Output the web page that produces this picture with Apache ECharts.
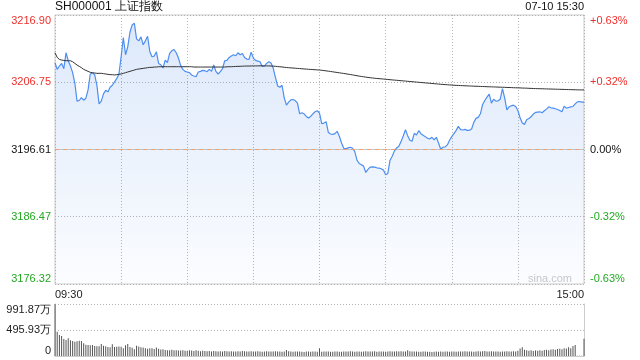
<!DOCTYPE html>
<html><head><meta charset="utf-8">
<script src="https://cdn.jsdelivr.net/npm/echarts@6/dist/echarts.min.js"></script>
<style>html,body{margin:0;padding:0;background:#fff}#c{width:640px;height:360px}</style>
</head><body><div id="c"></div>
<script>
const titleText = 'SH000001 上证指数';
const dateText = '07-10 15:30';
const prevClose = 3196.61;
const priceTicks = [3176.32, 3186.47, 3196.61, 3206.75, 3216.90];
const priceTickLabels = ['3176.32', '3186.47', '3196.61', '3206.75', '3216.90'];
const pctTickLabels = ['-0.63%', '-0.32%', '0.00%', '+0.32%', '+0.63%'];
const volTicks = [0, 495.93, 991.87];
const volTickLabels = ['0', '495.93万', '991.87万'];
const timeTickLabels = ['09:30', '15:00'];

const price = [
3209.70,3208.70,3209.20,3209.60,3208.80,3211.20,3210.00,3209.20,3208.20,3206.60,
3203.90,3204.00,3204.45,3204.05,3204.35,3205.60,3208.00,3208.15,3207.90,3206.30,
3203.50,3203.90,3205.00,3205.55,3205.30,3206.00,3206.30,3206.80,3207.30,3208.00,
3210.60,3213.50,3210.90,3212.10,3214.30,3215.40,3215.65,3213.30,3213.00,3213.60,
3212.40,3213.00,3213.70,3211.40,3210.60,3210.70,3211.35,3209.60,3209.40,3208.90,
3210.10,3209.70,3211.10,3211.50,3211.70,3211.20,3210.40,3209.30,3208.70,3208.40,
3208.30,3208.20,3207.85,3207.70,3207.60,3208.30,3208.40,3208.55,3208.50,3208.35,
3208.70,3208.40,3209.35,3208.40,3208.00,3208.35,3208.80,3210.00,3210.05,3210.50,
3210.70,3210.90,3210.75,3211.20,3210.90,3211.10,3210.50,3210.25,3210.20,3211.30,
3210.40,3210.05,3209.95,3209.85,3209.15,3209.20,3209.60,3209.85,3209.65,3208.90,
3207.50,3206.20,3206.00,3206.30,3204.40,3203.30,3203.75,3204.10,3204.15,3204.00,
3203.60,3202.00,3202.15,3202.00,3201.60,3201.35,3201.60,3202.00,3202.30,3202.45,3202.10,
3200.50,3200.60,3200.80,3199.20,3198.95,3198.90,3199.00,3199.35,3198.60,3197.60,
3196.80,3196.75,3196.85,3196.95,3196.80,3196.30,3195.00,3194.50,3194.30,3194.10,
3193.15,3193.60,3193.95,3194.00,3193.95,3193.85,3193.80,3193.70,3193.50,3192.80,
3193.00,3195.00,3195.60,3196.40,3196.85,3197.10,3197.80,3198.65,3199.60,3198.70,
3198.00,3197.85,3199.05,3198.80,3199.45,3199.00,3198.75,3198.55,3198.30,3198.20,
3198.45,3198.05,3198.45,3197.60,3196.65,3196.95,3197.00,3197.30,3198.00,3198.55,
3199.00,3199.50,3200.10,3199.60,3199.55,3199.65,3199.50,3199.50,3199.70,3200.70,
3201.30,3201.45,3202.00,3203.40,3204.00,3204.50,3204.95,3203.60,3204.20,3203.90,
3203.95,3204.20,3205.80,3204.40,3202.60,3203.05,3203.20,3203.30,3203.10,3202.50,
3201.40,3200.60,3200.40,3201.10,3201.30,3201.55,3201.95,3202.20,3202.25,3202.30,
3202.15,3202.45,3202.70,3203.05,3202.90,3202.85,3202.75,3202.65,3202.50,3202.30,
3203.15,3202.85,3202.95,3203.05,3203.10,3203.50,3203.80,3203.85,3203.75,3203.75
];

const avgPrice = [
3211.2,3210.5,3210.2,3210.1,3210.05,3210.0,3210.0,3210.0,3209.85,3209.6,
3209.35,3209.15,3208.95,3208.7,3208.55,3208.4,3208.25,3208.2,3208.15,3208.1,
3208.1,3208.1,3208.05,3208.0,3207.95,3207.9,3207.9,3207.85,3207.9,3207.95,
3208.0,3208.1,3208.2,3208.3,3208.4,3208.5,3208.6,3208.7,3208.75,3208.8,
3208.85,3208.9,3208.95,3209.0,3209.0,3209.05,3209.05,3209.1,3209.1,3209.1,
3209.1,3209.1,3209.1,3209.1,3209.1,3209.1,3209.1,3209.1,3209.1,3209.1,
3209.1,3209.1,3209.1,3209.05,3209.05,3209.05,3209.05,3209.05,3209.05,3209.05,
3209.05,3209.05,3209.05,3209.05,3209.05,3209.05,3209.05,3209.06,3209.08,3209.1,
3209.1,3209.12,3209.14,3209.15,3209.16,3209.18,3209.19,3209.2,3209.2,3209.21,
3209.22,3209.22,3209.22,3209.23,3209.23,3209.23,3209.22,3209.22,3209.2,3209.19,
3209.16,3209.12,3209.09,3209.06,3209.02,3208.98,3208.95,3208.92,3208.9,3208.87,
3208.84,3208.82,3208.79,3208.76,3208.74,3208.71,3208.69,3208.67,3208.64,3208.62,3208.6,
3208.56,3208.52,3208.47,3208.43,3208.38,3208.33,3208.28,3208.23,3208.18,3208.13,
3208.08,3208.03,3207.97,3207.92,3207.86,3207.8,3207.74,3207.68,3207.63,3207.58,
3207.53,3207.48,3207.44,3207.4,3207.36,3207.33,3207.3,3207.27,3207.24,3207.2,
3207.17,3207.14,3207.11,3207.08,3207.05,3207.02,3206.99,3206.96,3206.93,3206.9,
3206.87,3206.84,3206.81,3206.78,3206.75,3206.72,3206.69,3206.66,3206.63,3206.6,
3206.57,3206.54,3206.51,3206.48,3206.45,3206.43,3206.4,3206.38,3206.35,3206.33,
3206.3,3206.28,3206.27,3206.25,3206.24,3206.22,3206.21,3206.19,3206.18,3206.16,
3206.15,3206.14,3206.12,3206.11,3206.1,3206.08,3206.07,3206.06,3206.05,3206.04,
3206.02,3206.01,3206.0,3205.99,3205.97,3205.96,3205.95,3205.93,3205.92,3205.91,
3205.9,3205.88,3205.87,3205.86,3205.84,3205.83,3205.81,3205.8,3205.79,3205.78,
3205.77,3205.76,3205.75,3205.74,3205.73,3205.72,3205.71,3205.7,3205.69,3205.68,
3205.67,3205.66,3205.65,3205.64,3205.63,3205.62,3205.61,3205.6,3205.6,3205.6
];

const volume = [
991.87,463,400,381,324,305,337,300,286,272,
280,290,286,242,215,210,205,210,191,188,
185,229,196,186,170,166,225,172,178,182,
176,150,205,228,170,158,130,196,180,168,
160,148,140,150,146,132,160,140,125,130,
115,112,108,118,110,112,104,106,110,100,
102,108,104,96,112,100,92,98,94,90,
96,88,94,90,86,92,88,95,90,86,
92,88,84,90,86,96,90,84,88,92,
86,84,90,88,82,86,92,88,84,86,
90,88,84,82,88,115,92,84,80,86,
88,84,82,78,84,88,80,86,84,82,150,
80,84,86,88,82,80,84,86,82,80,
86,88,84,90,86,82,88,84,80,86,
92,88,84,86,90,82,84,88,86,80,
86,90,84,88,92,86,90,84,88,112,
90,84,86,88,82,80,84,86,82,80,
78,82,86,80,84,82,86,84,80,86,
84,82,88,86,84,90,88,84,86,82,
88,92,86,90,96,88,84,92,86,88,
84,82,88,86,90,84,88,92,86,100,
145,165,120,110,100,108,96,104,100,110,
102,115,120,110,125,130,118,135,140,130,
150,145,165,150,190,210,6,5,5,330
];

// x position = trading-minute index (0 = 09:30, 120 = 11:30/13:00, 240 = 15:00)
const lastMinute = price.length - 1;
const pricePts = price.map((v, i) => [i, v]);
const avgPts = avgPrice.map((v, i) => [i, v]);
const volPts = volume.map((v, i) => [i, v]);

const pctTicks = priceTicks.map(p => (p/prevClose - 1) * 100);
const RED = '#f0302c', GREEN = '#22a822', BLACK = '#111';
const GRIDC = '#b4b4b4';

function nearestIdx(arr, v){let b=0;for(let i=1;i<arr.length;i++){if(Math.abs(arr[i]-v)<Math.abs(arr[b]-v))b=i;}return b;}

const chart = echarts.init(document.getElementById('c'), null, {renderer: 'canvas'});
const fontFamily = '"Liberation Sans", Arial, sans-serif';
chart.setOption({
  animation: false,
  backgroundColor: '#fff',
  textStyle: {fontFamily: fontFamily},
  graphic: [
    {type: 'text', left: 55, top: 1, style: {text: titleText, fontSize: 12, fill: '#111', fontFamily: fontFamily}},
    {type: 'text', right: 56, top: 1, style: {text: dateText, fontSize: 11, fill: '#111', fontFamily: fontFamily}},
    {type: 'text', right: 68, top: 273, z: 0, style: {text: 'sina.com', fontSize: 11, fill: '#c8c8c8', fontFamily: fontFamily}}
  ],
  grid: [
    {left: 55, right: 56, top: 15, height: 269, show: true, borderColor: '#ccc', borderWidth: 1},
    {left: 55, right: 56, top: 304, height: 52}
  ],
  xAxis: [
    {type: 'value', gridIndex: 0, min: 0, max: lastMinute, interval: 30,
     axisLine: {show: true, lineStyle: {color: '#ccc'}}, axisTick: {show: false},
     axisLabel: {color: '#222', fontSize: 11, margin: 5,
       alignMinLabel: 'left', alignMaxLabel: 'right',
       formatter: (v) => v === 0 ? timeTickLabels[0] : (v === lastMinute ? timeTickLabels[1] : '')},
     splitLine: {show: true, lineStyle: {color: GRIDC, type: [1, 2], width: 1}}},
    {type: 'value', gridIndex: 1, min: 0, max: lastMinute, interval: 30,
     axisLine: {show: true, lineStyle: {color: '#ccc'}}, axisTick: {show: false},
     axisLabel: {show: false}, splitLine: {show: false}}
  ],
  yAxis: [
    {type: 'value', gridIndex: 0, position: 'left', min: priceTicks[0], max: priceTicks[priceTicks.length-1],
     axisLine: {show: false}, axisTick: {show: false, customValues: priceTicks},
     axisLabel: {customValues: priceTicks, fontSize: 11, margin: 4,
       verticalAlignMinLabel: 'bottom', verticalAlignMaxLabel: 'top',
       formatter: (v) => priceTickLabels[nearestIdx(priceTicks, v)],
       color: (v) => v > prevClose + 0.01 ? RED : (v < prevClose - 0.01 ? GREEN : BLACK)},
     splitLine: {show: true, lineStyle: {color: GRIDC, type: [1, 2], width: 1}}},
    {type: 'value', gridIndex: 0, position: 'right', min: pctTicks[0], max: pctTicks[pctTicks.length-1],
     axisLine: {show: false}, axisTick: {show: false, customValues: pctTicks},
     axisLabel: {customValues: pctTicks, fontSize: 11, margin: 6,
       verticalAlignMinLabel: 'bottom', verticalAlignMaxLabel: 'top',
       formatter: (v) => pctTickLabels[nearestIdx(pctTicks, v)],
       color: (v) => v > 0.001 ? RED : (v < -0.001 ? GREEN : BLACK)},
     splitLine: {show: false}},
    {type: 'value', gridIndex: 1, position: 'left', min: volTicks[0], max: volTicks[volTicks.length-1],
     axisLine: {show: true, lineStyle: {color: '#ccc'}}, axisTick: {show: false, customValues: volTicks},
     axisLabel: {customValues: volTicks, fontSize: 11, margin: 4, color: '#222',
       verticalAlignMinLabel: 'bottom', verticalAlignMaxLabel: 'top',
       formatter: (v) => volTickLabels[nearestIdx(volTicks, v)]},
     splitLine: {show: true, lineStyle: {color: GRIDC, type: [1, 2], width: 1}}},
    {type: 'value', gridIndex: 1, position: 'right', min: volTicks[0], max: volTicks[volTicks.length-1],
     axisLine: {show: true, lineStyle: {color: '#ccc'}}, axisTick: {show: false},
     axisLabel: {show: false}, splitLine: {show: false}}
  ],
  series: [
    {type: 'line', xAxisIndex: 0, yAxisIndex: 0, data: pricePts, showSymbol: false, symbol: 'none',
     lineStyle: {color: '#4d8ef0', width: 1.2},
     areaStyle: {origin: 'start', color: new echarts.graphic.LinearGradient(0, 0, 0, 1, [
       {offset: 0, color: 'rgba(80,140,235,0.28)'}, {offset: 1, color: 'rgba(80,140,235,0.03)'}])},
     markLine: {silent: true, symbol: ['none', 'none'], label: {show: false},
       lineStyle: {color: '#f0a070', type: [4, 4], width: 1}, data: [{yAxis: prevClose}]},
     z: 3},
    {type: 'line', xAxisIndex: 0, yAxisIndex: 0, data: avgPts, showSymbol: false, symbol: 'none',
     lineStyle: {color: '#333', width: 1}, z: 4},
    {type: 'bar', xAxisIndex: 1, yAxisIndex: 2, data: volPts, barWidth: 1,
     itemStyle: {color: '#555'}}
  ]
});
</script>
</body></html>
